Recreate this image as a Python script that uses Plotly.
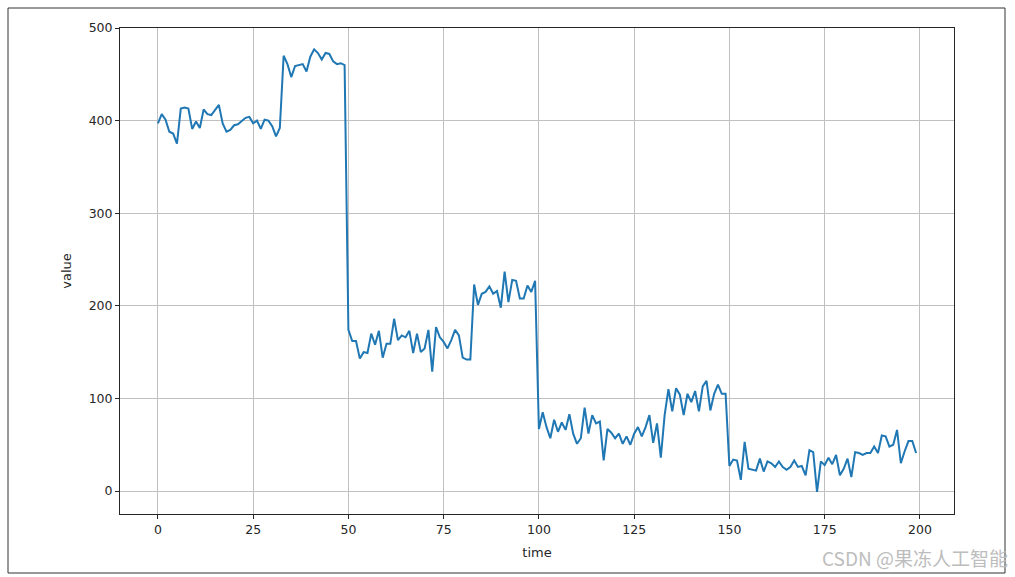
import plotly.graph_objects as go

time = list(range(200))
value = [
    397, 407, 401, 388, 386, 375, 413, 414, 413, 391,
    399, 392, 412, 407, 406, 412, 417, 397, 388, 390,
    395, 396, 399, 403, 404, 397, 400, 391, 401, 400,
    394, 383, 392, 470, 461, 447, 459, 460, 461, 453,
    469, 477, 473, 466, 473, 472, 464, 461, 462, 460,
    174, 162, 162, 143, 150, 149, 170, 158, 173, 144,
    159, 159, 186, 163, 168, 166, 173, 149, 170, 150,
    154, 174, 129, 177, 166, 161, 154, 163, 174, 168,
    144, 142, 142, 223, 201, 213, 215, 221, 213, 216,
    198, 237, 204, 228, 227, 208, 208, 222, 215, 227,
    67, 85, 69, 57, 77, 64, 74, 66, 83, 62,
    51, 57, 90, 62, 82, 73, 75, 33, 67, 63,
    57, 62, 51, 59, 50, 62, 69, 59, 69, 82,
    52, 73, 36, 82, 110, 86, 111, 104, 82, 105,
    96, 108, 86, 113, 119, 87, 105, 115, 105, 105,
    27, 34, 33, 12, 53, 24, 23, 22, 35, 21,
    32, 30, 26, 32, 26, 23, 26, 33, 26, 27,
    17, 44, 42, -1, 32, 28, 36, 29, 39, 17,
    24, 35, 15, 42, 41, 39, 41, 41, 48, 41,
    60, 59, 48, 50, 66, 30, 43, 54, 54, 41,
]
x_ticks = [0, 25, 50, 75, 100, 125, 150, 175, 200]
y_ticks = [0, 100, 200, 300, 400, 500]

fig = go.Figure()
fig.add_trace(go.Scatter(
    x=time, y=value, mode="lines",
    line=dict(color="#1f77b4", width=2),
    showlegend=False, hoverinfo="x+y",
))

axis_common = dict(
    showline=True, linecolor="#262626", linewidth=1, mirror=True,
    ticks="outside", ticklen=4, tickwidth=1, tickcolor="#262626",
    showgrid=True, gridcolor="#c0c0c0", gridwidth=1,
    zeroline=False,
    tickfont=dict(family="DejaVu Sans", size=12.5, color="#262626"),
)

fig.update_layout(
    width=1015, height=577,
    margin=dict(l=120, r=61, t=28, b=63),
    paper_bgcolor="white", plot_bgcolor="white",
    font=dict(family="DejaVu Sans", size=12, color="#262626"),
    xaxis=dict(
        range=[-9.95, 208.95], tickvals=x_ticks,
        title=dict(text="time", font=dict(size=13), standoff=11),
        **axis_common,
    ),
    yaxis=dict(
        range=[-24.8, 500], tickvals=y_ticks,
        title=dict(text="value", font=dict(size=13), standoff=14),
        **axis_common,
    ),
    shapes=[dict(
        type="rect", xref="paper", yref="paper",
        x0=(8 - 120) / 834, x1=(1005 - 120) / 834,
        y0=(514 - 573) / 486, y1=(514 - 8) / 486,
        line=dict(color="#333333", width=1), fillcolor="rgba(0,0,0,0)",
        layer="below",
    )],
    annotations=[dict(
        text="CSDN @果冻人工智能", xref="paper", yref="paper",
        x=(820 - 120) / 834, y=(514 - 557) / 486,
        xanchor="left", yanchor="middle", showarrow=False,
        font=dict(family="Noto Sans CJK SC", size=19, color="#bdbdbd"),
    )],
)

fig.write_html(
    "out.html",
    config={"displayModeBar": False},
    post_script="document.body.style.margin='0';"
                "document.documentElement.style.overflow='hidden';",
)
